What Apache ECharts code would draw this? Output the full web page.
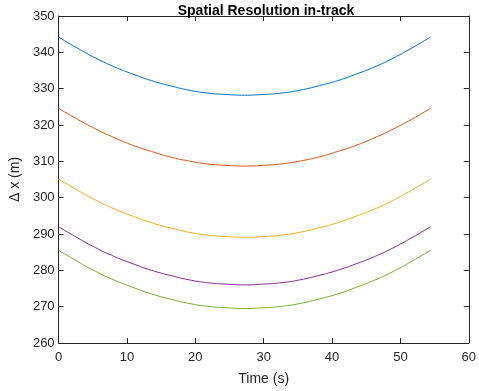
<!DOCTYPE html>
<html>
<head>
<meta charset="utf-8">
<script src="https://cdn.jsdelivr.net/npm/echarts@6/dist/echarts.min.js"></script>
<style>html,body{margin:0;padding:0;background:#fff}#c{width:479px;height:391px}</style>
</head>
<body>
<div id="c"></div>
<script>
var time = [0, 2.72, 5.44, 8.16, 10.88, 13.6, 16.32, 19.04, 21.76, 24.48, 27.2, 29.92, 32.64, 35.36, 38.08, 40.8, 43.52, 46.24, 48.96, 51.68, 54.4];
var seriesBlue   = [344.2, 341.2, 338.4, 336.0, 334.0, 332.2, 330.8, 329.6, 328.8, 328.4, 328.2, 328.4, 328.8, 329.6, 330.8, 332.2, 334.0, 336.0, 338.4, 341.2, 344.2];
var seriesOrange = [324.6, 321.6, 318.9, 316.5, 314.4, 312.7, 311.2, 310.1, 309.3, 308.9, 308.7, 308.9, 309.3, 310.1, 311.2, 312.7, 314.4, 316.5, 318.9, 321.6, 324.6];
var seriesYellow = [305.1, 302.1, 299.3, 296.9, 294.9, 293.1, 291.7, 290.5, 289.7, 289.3, 289.1, 289.3, 289.7, 290.5, 291.7, 293.1, 294.9, 296.9, 299.3, 302.1, 305.1];
var seriesPurple = [292.0, 289.0, 286.2, 283.8, 281.8, 280.0, 278.6, 277.4, 276.6, 276.2, 276.0, 276.2, 276.6, 277.4, 278.6, 280.0, 281.8, 283.8, 286.2, 289.0, 292.0];
var seriesGreen  = [285.5, 282.5, 279.7, 277.3, 275.3, 273.5, 272.1, 270.9, 270.1, 269.7, 269.5, 269.7, 270.1, 270.9, 272.1, 273.5, 275.3, 277.3, 279.7, 282.5, 285.5];
var colors = ['#0072BD', '#D95319', '#EDB120', '#7E2F8E', '#77AC30'];
var allSeries = [seriesBlue, seriesOrange, seriesYellow, seriesPurple, seriesGreen];

function pairs(ys) { return time.map(function (t, i) { return [t, ys[i]]; }); }

var axisCol = '#262626';
var font = 'Liberation Sans, Arial, Helvetica, sans-serif';
function baseAxis(pos, showLabel) {
  return {
    type: 'value', position: pos,
    axisLine: { show: true, onZero: false, lineStyle: { color: axisCol, width: 1 } },
    axisTick: { show: true, inside: true, length: 5, lineStyle: { color: axisCol } },
    axisLabel: { show: showLabel, color: axisCol, fontSize: 13, fontFamily: font },
    splitLine: { show: false }
  };
}
var x0 = baseAxis('bottom', true);
Object.assign(x0, { min: 0, max: 60, interval: 10, name: 'Time (s)', nameLocation: 'middle', nameGap: 29,
  nameTextStyle: { color: axisCol, fontSize: 14, fontFamily: font } });
x0.axisLabel.margin = 8;
var x1 = baseAxis('top', false);
Object.assign(x1, { min: 0, max: 60, interval: 10 });
var y0 = baseAxis('left', true);
Object.assign(y0, { min: 260, max: 350, interval: 10, name: 'Δ x (m)', nameLocation: 'middle', nameGap: 27,
  nameTextStyle: { color: axisCol, fontSize: 14, fontFamily: font } });
y0.axisLabel.margin = 4;
var y1 = baseAxis('right', false);
Object.assign(y1, { min: 260, max: 350, interval: 10 });

var chart = echarts.init(document.getElementById('c'));
chart.setOption({
  animation: false,
  backgroundColor: '#fff',
  title: { text: 'Spatial Resolution in-track', left: 261, textAlign: 'center', top: -1,
    textStyle: { fontSize: 14, fontWeight: 'bold', color: '#000', fontFamily: font } },
  grid: { left: 53, right: 9, top: 16, bottom: 47 },
  xAxis: [x0, x1],
  yAxis: [y0, y1],
  series: allSeries.map(function (s, i) {
    return { type: 'line', data: pairs(s), xAxisIndex: 0, yAxisIndex: 0, smooth: true, showSymbol: false,
      lineStyle: { color: colors[i], width: 1 }, itemStyle: { color: colors[i] } };
  })
});
</script>
</body>
</html>
